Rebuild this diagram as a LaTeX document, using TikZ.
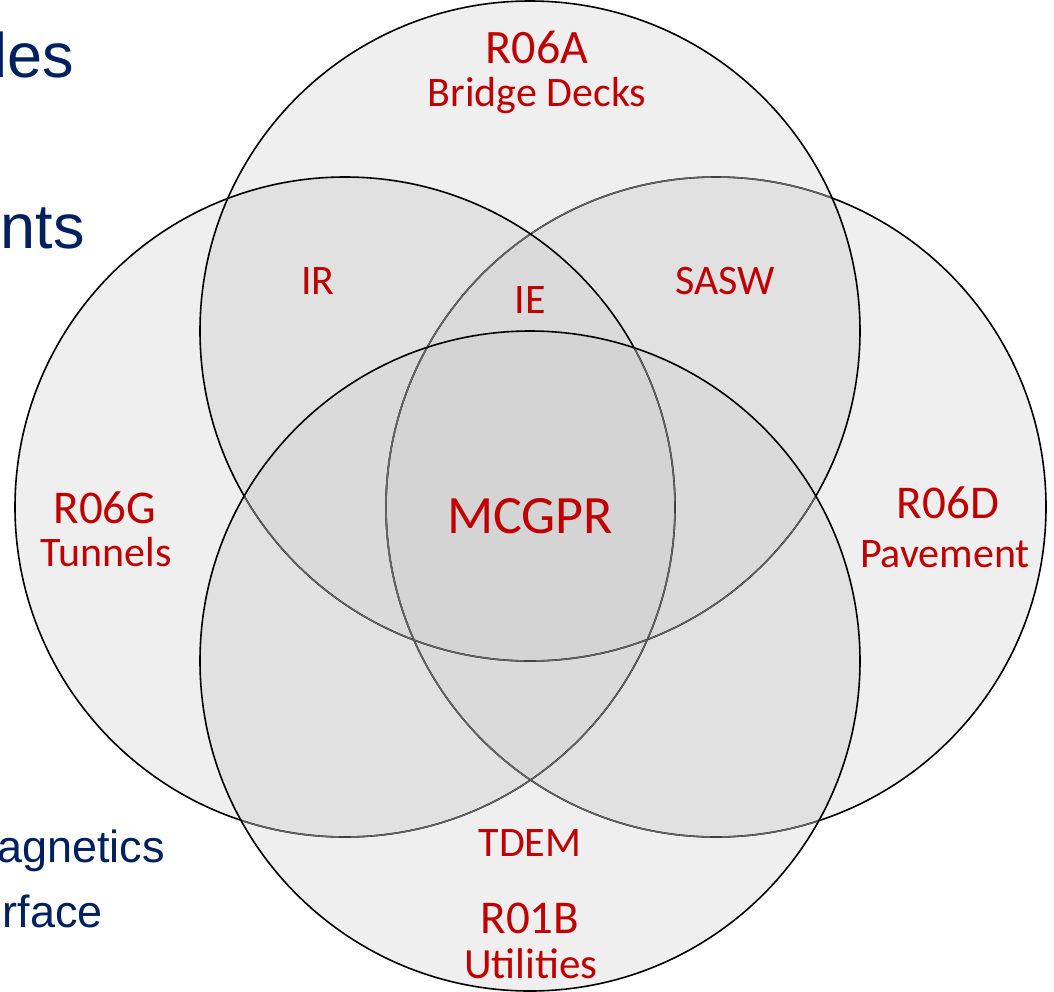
\documentclass[tikz,border=0pt]{standalone}
\usepackage{fontspec}
\setmainfont{Carlito}
\newfontfamily\arialf{Liberation Sans}
\definecolor{redtxt}{HTML}{C00000}
\definecolor{bluetxt}{HTML}{002060}
\definecolor{cone}{HTML}{EFEFEF}
\definecolor{ctwo}{HTML}{E1E1E1}
\definecolor{cthree}{HTML}{DADADA}
\definecolor{cfour}{HTML}{D4D4D4}
\definecolor{dimline}{HTML}{646464}
\tikzset{
  lbl/.style={text=redtxt, inner sep=0pt, anchor=base},
  side/.style={text=bluetxt, inner sep=0pt, anchor=base east, font=\arialf},
  ring/.style={draw=black, line width=1.6pt},
  dimring/.style={draw=dimline, line width=1.4pt},
}
\newcommand{\cR}{(716,507) circle[radius=330]}
\newcommand{\cT}{(530,331) circle[radius=330]}
\newcommand{\cL}{(345,507) circle[radius=330]}
\newcommand{\cB}{(530,661) circle[radius=330]}
\begin{document}
\begin{tikzpicture}[x=1pt,y=-1pt]
\useasboundingbox (0,0) rectangle (1054,991);
% single fills
\fill[cone] \cR; \fill[cone] \cT; \fill[cone] \cL; \fill[cone] \cB;
% pairs
\begin{scope}\clip \cR; \fill[ctwo] \cT; \fill[ctwo] \cL; \fill[ctwo] \cB; \end{scope}
\begin{scope}\clip \cT; \fill[ctwo] \cL; \fill[ctwo] \cB; \end{scope}
\begin{scope}\clip \cL; \fill[ctwo] \cB; \end{scope}
% triples
\begin{scope}\clip \cR; \clip \cT; \fill[cthree] \cL; \fill[cthree] \cB; \end{scope}
\begin{scope}\clip \cL; \clip \cB; \fill[cthree] \cR; \fill[cthree] \cT; \end{scope}
% quad
\begin{scope}\clip \cR; \clip \cT; \clip \cL; \fill[cfour] \cB; \end{scope}
% strokes: right, top, left, bottom
\draw[ring] \cR;
\begin{scope}\clip \cT; \draw[dimring] \cR; \end{scope}
\begin{scope}\clip \cL; \draw[dimring] \cR; \end{scope}
\begin{scope}\clip \cB; \draw[dimring] \cR; \end{scope}
\draw[ring] \cT;
\begin{scope}\clip \cB; \draw[dimring] \cT; \end{scope}
\draw[ring] \cL;
\begin{scope}\clip \cB; \draw[dimring] \cL; \end{scope}
\draw[ring] \cB;
% labels
\node[lbl, font=\fontsize{48}{50}\selectfont] (r06a) at (537,63) {R06A};
\node[lbl, font=\fontsize{42}{44}\selectfont] (bridge) at (537,106) {Bridge Decks};
\node[lbl, font=\fontsize{42}{44}\selectfont] (ir) at (318,294) {IR};
\node[lbl, font=\fontsize{42}{44}\selectfont] (ie) at (530,313) {IE};
\node[lbl, font=\fontsize{42}{44}\selectfont] (sasw) at (725,294) {SASW};
\node[lbl, font=\fontsize{47}{49}\selectfont] (r06g) at (105,523) {R06G};
\node[lbl, font=\fontsize{42}{44}\selectfont] (tunnels) at (106,566) {Tunnels};
\node[lbl, font=\fontsize{54}{56}\selectfont] (mcgpr) at (530,533) {MCGPR};
\node[lbl, font=\fontsize{47}{49}\selectfont] (r06d) at (948,518) {R06D};
\node[lbl, font=\fontsize{42}{44}\selectfont] (pavement) at (945,567) {Pavement};
\node[lbl, font=\fontsize{42}{44}\selectfont] (tdem) at (530,856) {TDEM};
\node[lbl, font=\fontsize{47}{49}\selectfont] (r01b) at (530,933) {R01B};
\node[lbl, font=\fontsize{43}{45}\selectfont] (util) at (531,978) {Utilities};
% cropped side text
\node[side, font=\arialf\fontsize{63}{65}\selectfont] (des) at (74,77) {des};
\node[side, font=\arialf\fontsize{63}{65}\selectfont] (nts) at (85,248) {nts};
\node[side, font=\arialf\fontsize{45}{47}\selectfont] (agn) at (165,862) {agnetics};
\node[side, font=\arialf\fontsize{45}{47}\selectfont] (rface) at (103,927) {rface};
\end{tikzpicture}
\end{document}
